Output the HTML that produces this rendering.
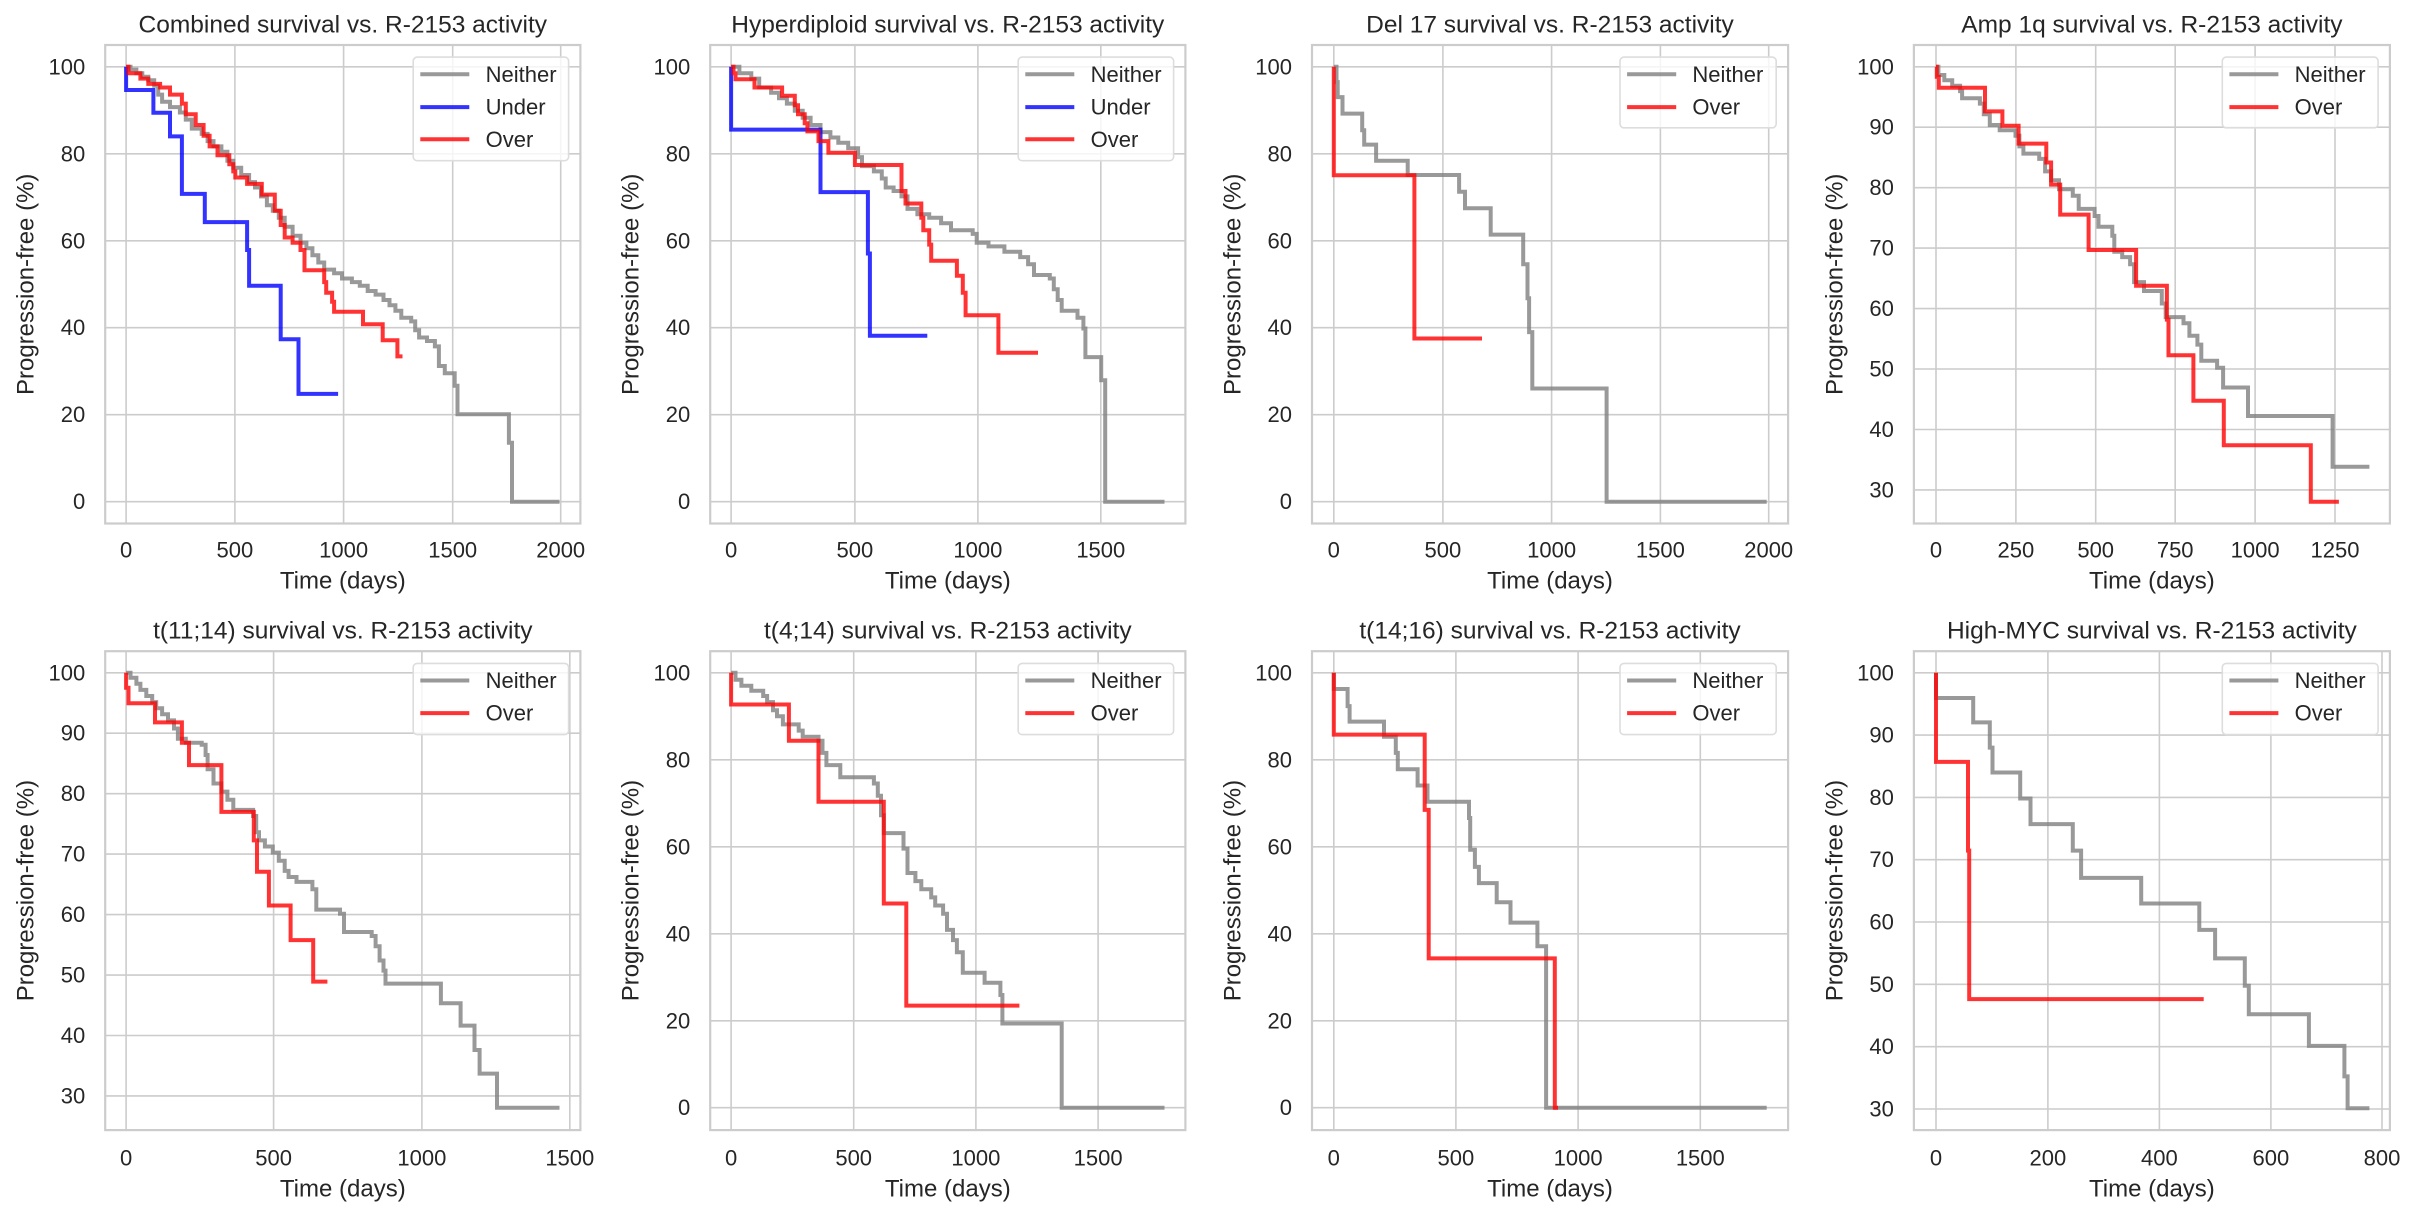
<!DOCTYPE html>
<html><head><meta charset="utf-8"><style>
html,body{margin:0;padding:0;background:#fff;}
svg{display:block;}
text{font-family:"Liberation Sans",Arial,sans-serif;fill:#262626;}
</style></head><body>
<svg id="s" width="2418" height="1218" viewBox="0 0 2418 1218" xmlns="http://www.w3.org/2000/svg"></svg>
<script>
const FX=0.3954;
const G='rgba(128,128,128,0.8)',R='rgba(255,0,0,0.8)',B='rgba(0,0,255,0.8)';
const P=[
{off:0,row:1,ax:[266,1468],title:"Combined survival vs. R-2153 activity",
 xt:[[0,319],[500,594],[1000,869],[1500,1145],[2000,1418]],
 yt:[[100,187],[80,430.6],[60,674.2],[40,917.8],[20,1161.4],[0,1405]],
 leg:[1045,1438,160,450],
 s:[["Neither",G,[[319,187],[330,195],[345,205],[360,215],[375,225],[390,240],[400,265],[410,285],[430,300],[455,315],[470,335],[485,360],[510,375],[525,395],[540,410],[560,425],[575,450],[590,470],[610,490],[630,510],[645,525],[660,550],[675,575],[690,590],[705,610],[720,635],[740,660],[760,680],[775,695],[790,715],[805,735],[820,755],[845,765],[865,780],[890,790],[910,800],[930,815],[950,825],[970,840],[985,855],[1000,870],[1015,890],[1040,900],[1050,925],[1060,945],[1080,955],[1100,970],[1110,1025],[1125,1045],[1150,1080],[1157,1160],[1287,1240],[1295,1405],[1415,1405]]],
 ["Under",B,[[319,187],[319,252],[388,316],[430,382],[460,543],[518,622],[625,700],[630,800],[710,950],[755,1103],[855,1103]]],
 ["Over",R,[[319,187],[325,205],[355,220],[375,235],[405,245],[430,265],[460,290],[470,320],[495,350],[515,380],[530,410],[550,435],[580,460],[590,480],[595,497],[625,515],[662,545],[695,590],[710,630],[720,665],[740,680],[760,700],[770,757],[820,790],[825,820],[840,845],[845,873],[918,908],[968,953],[1005,998],[1018,998]]]]},
{off:605,row:1,ax:[266,1468],title:"Hyperdiploid survival vs. R-2153 activity",
 xt:[[0,319],[500,632],[1000,943],[1500,1254]],
 yt:[[100,187],[80,430.6],[60,674.2],[40,917.8],[20,1161.4],[0,1405]],
 leg:[1045,1438,160,450],
 s:[["Neither",G,[[319,187],[340,205],[370,220],[390,245],[420,260],[440,275],[460,290],[480,310],[500,330],[520,350],[545,370],[570,385],[590,400],[615,415],[640,440],[650,465],[680,480],[700,500],[710,525],[730,535],[750,550],[765,585],[790,600],[820,610],[850,625],[875,645],[930,655],[940,680],[970,690],[1010,705],[1050,720],[1070,740],[1085,770],[1125,780],[1135,810],[1145,840],[1155,870],[1195,890],[1210,920],[1215,1000],[1255,1065],[1265,1405],[1415,1405]]],
 ["Under",B,[[319,187],[319,363],[545,395],[545,538],[665,710],[670,940],[815,940]]],
 ["Over",R,[[319,187],[325,205],[330,222],[378,245],[448,268],[480,295],[488,320],[505,345],[512,368],[540,395],[565,428],[632,462],[750,535],[760,570],[800,610],[805,645],[820,685],[825,730],[890,772],[905,820],[912,883],[995,988],[1095,988]]]]},
{off:1210,row:1,ax:[258,1462],title:"Del 17 survival vs. R-2153 activity",
 xt:[[0,313],[500,589],[1000,864],[1500,1139],[2000,1413]],
 yt:[[100,187],[80,430.6],[60,674.2],[40,917.8],[20,1161.4],[0,1405]],
 leg:[1037,1432,160,358],
 s:[["Neither",G,[[313,187],[320,230],[323,272],[335,318],[385,365],[390,405],[420,450],[500,490],[630,537],[645,583],[710,657],[792,740],[803,835],[807,930],[815,1088],[1003,1405],[1408,1405]]],
 ["Over",R,[[313,187],[313,491],[517,948],[688,948]]]]},
{off:1798,row:1,ax:[293,1497],title:"Amp 1q survival vs. R-2153 activity",
 xt:[[0,349],[250,551],[500,753],[750,954],[1000,1156],[1250,1358]],
 yt:[[100,187],[90,356.3],[80,525.6],[70,694.9],[60,864.1],[50,1033.4],[40,1202.7],[30,1372]],
 leg:[1073,1467,160,358],
 s:[["Neither",G,[[349,187],[355,210],[370,225],[390,240],[410,255],[415,275],[460,290],[470,320],[485,350],[510,365],[550,380],[560,410],[570,430],[610,445],[625,480],[640,505],[660,530],[695,548],[710,585],[750,605],[760,635],[795,660],[800,705],[820,720],[840,740],[850,790],[875,815],[920,850],[930,888],[975,905],[990,940],[1010,965],[1020,1010],[1060,1030],[1075,1085],[1138,1165],[1352,1307],[1445,1307]]],
 ["Over",R,[[349,187],[351,215],[356,246],[473,312],[517,352],[558,402],[628,455],[640,517],[663,601],[735,700],[855,800],[933,895],[937,995],[1000,1122],[1077,1247],[1297,1405],[1368,1405]]]]},
{off:0,row:2,ax:[266,1468],title:"t(11;14) survival vs. R-2153 activity",
 xt:[[0,319],[500,692],[1000,1067],[1500,1441]],
 yt:[[100,228],[90,376.6],[80,525.1],[70,673.7],[60,822.3],[50,970.9],[40,1119.4],[30,1268]],
 leg:[1045,1438,205,380],
 s:[["Neither",G,[[319,228],[330,240],[345,255],[355,270],[370,285],[385,300],[395,315],[410,330],[425,345],[440,365],[450,390],[470,400],[510,405],[520,430],[525,465],[540,500],[560,520],[575,540],[590,565],[640,580],[648,620],[655,640],[670,655],[690,670],[705,690],[720,715],[730,730],[750,742],[790,760],[800,810],[860,820],[870,865],[940,875],[950,900],[960,935],[970,960],[975,992],[1115,1040],[1165,1095],[1200,1155],[1213,1213],[1257,1297],[1415,1297]]],
 ["Over",R,[[319,228],[319,265],[325,303],[392,350],[460,400],[478,455],[560,570],[642,640],[650,717],[680,800],[735,885],[792,987],[828,987]]]]},
{off:605,row:2,ax:[266,1468],title:"t(4;14) survival vs. R-2153 activity",
 xt:[[0,319],[500,629],[1000,938],[1500,1247]],
 yt:[[100,228],[80,441.8],[60,655.6],[40,869.4],[20,1083.2],[0,1297]],
 leg:[1045,1438,205,380],
 s:[["Neither",G,[[319,228],[330,245],[345,260],[370,272],[400,285],[410,300],[425,320],[435,335],[450,355],[490,370],[500,385],[540,395],[550,425],[560,455],[595,485],[680,500],[690,530],[698,578],[705,622],[755,660],[765,720],[785,740],[800,760],[825,780],[835,800],[855,820],[865,860],[880,885],[890,915],[905,965],[960,990],[1000,1020],[1005,1090],[1155,1297],[1415,1297]]],
 ["Over",R,[[319,228],[319,306],[465,395],[540,545],[705,795],[762,1046],[1048,1046]]]]},
{off:1210,row:2,ax:[258,1462],title:"t(14;16) survival vs. R-2153 activity",
 xt:[[0,313],[500,622],[1000,931],[1500,1240]],
 yt:[[100,228],[80,441.8],[60,655.6],[40,869.4],[20,1083.2],[0,1297]],
 leg:[1037,1432,205,380],
 s:[["Neither",G,[[313,228],[313,268],[348,310],[353,348],[440,385],[470,425],[475,465],[525,505],[550,545],[655,585],[658,663],[670,705],[680,745],[725,792],[760,842],[828,900],[850,1297],[1408,1297]]],
 ["Over",R,[[313,228],[313,380],[543,565],[553,930],[872,1297],[880,1297]]]]},
{off:1798,row:2,ax:[293,1497],title:"High-MYC survival vs. R-2153 activity",
 xt:[[0,349],[200,632],[400,914],[600,1196],[800,1477]],
 yt:[[100,228],[90,381.1],[80,534.3],[70,687.4],[60,840.6],[50,993.7],[40,1146.9],[30,1300]],
 leg:[1073,1467,205,380],
 s:[["Neither",G,[[349,228],[349,290],[443,350],[485,412],[492,473],[562,537],[588,600],[695,665],[716,732],[868,795],[1015,860],[1055,930],[1130,997],[1140,1067],[1292,1145],[1382,1220],[1390,1298],[1445,1298]]],
 ["Over",R,[[349,228],[349,447],[430,665],[433,1030],[1026,1030]]]]}
];
let o='';
for(const p of P){
  const fy=p.row==1?0.3571:0.4069, y0=p.row==1?0:580;
  const X=v=>(p.off+v*FX).toFixed(1), Y=v=>(y0+v*fy).toFixed(1);
  const top=p.row==1?126:175, bot=p.row==1?1466:1352;
  const L=+X(p.ax[0]),Rr=+X(p.ax[1]),T=+Y(top),Bt=+Y(bot);
  for(const t of p.xt) o+=`<line x1="${X(t[1])}" y1="${T}" x2="${X(t[1])}" y2="${Bt}" stroke="#cccccc" stroke-width="1.6"/>`;
  for(const t of p.yt) o+=`<line x1="${L}" y1="${Y(t[1])}" x2="${Rr}" y2="${Y(t[1])}" stroke="#cccccc" stroke-width="1.6"/>`;
  for(const s of p.s){
    const pts=s[2]; let d=`M${X(pts[0][0])},${Y(pts[0][1])}`;
    for(let i=1;i<pts.length;i++){d+=` H${X(pts[i][0])} V${Y(pts[i][1])}`;}
    o+=`<path d="${d}" fill="none" stroke="${s[1]}" stroke-width="4"/>`;
  }
  o+=`<rect x="${L}" y="${T}" width="${(Rr-L).toFixed(1)}" height="${(Bt-T).toFixed(1)}" fill="none" stroke="#cccccc" stroke-width="2.2"/>`;
  const xty=p.row==1?550:1157.8;
  for(const t of p.xt) o+=`<text x="${X(t[1])}" y="${xty}" font-size="22" text-anchor="middle" dominant-baseline="central">${t[0]}</text>`;
  for(const t of p.yt) o+=`<text x="${(L-20).toFixed(1)}" y="${Y(t[1])}" font-size="22" text-anchor="end" dominant-baseline="central">${t[0]}</text>`;
  const cx=((L+Rr)/2).toFixed(1), cy=((T+Bt)/2).toFixed(1);
  o+=`<text x="${cx}" y="${(xty+31).toFixed(1)}" font-size="24" text-anchor="middle" dominant-baseline="central">Time (days)</text>`;
  o+=`<text x="0" y="0" font-size="24" text-anchor="middle" dominant-baseline="central" transform="translate(${(L-79).toFixed(1)},${cy}) rotate(-90)">Progression-free (%)</text>`;
  const ty=p.row==1?25:631;
  o+=`<text x="${cx}" y="${ty}" font-size="24.5" text-anchor="middle" dominant-baseline="central">${p.title}</text>`;
  const lg=p.leg, lx=+X(lg[0]), lx2=+X(lg[1]), ly=+Y(lg[2]), ly2=+Y(lg[3]);
  o+=`<rect x="${lx}" y="${ly}" width="${(lx2-lx).toFixed(1)}" height="${(ly2-ly).toFixed(1)}" rx="4" fill="rgba(255,255,255,0.8)" stroke="#dddddd" stroke-width="1.6"/>`;
  const rows=p.row==1?[208,300,390]:[247,327];
  p.s.forEach((s,i)=>{
    const yy=Y(rows[i]);
    o+=`<line x1="${X(lg[0]+18)}" y1="${yy}" x2="${X(lg[0]+142)}" y2="${yy}" stroke="${s[1]}" stroke-width="4"/>`;
    o+=`<text x="${X(lg[0]+183)}" y="${yy}" font-size="22" dominant-baseline="central">${s[0]}</text>`;
  });
}
document.getElementById('s').innerHTML=o;
</script>
</body></html>
